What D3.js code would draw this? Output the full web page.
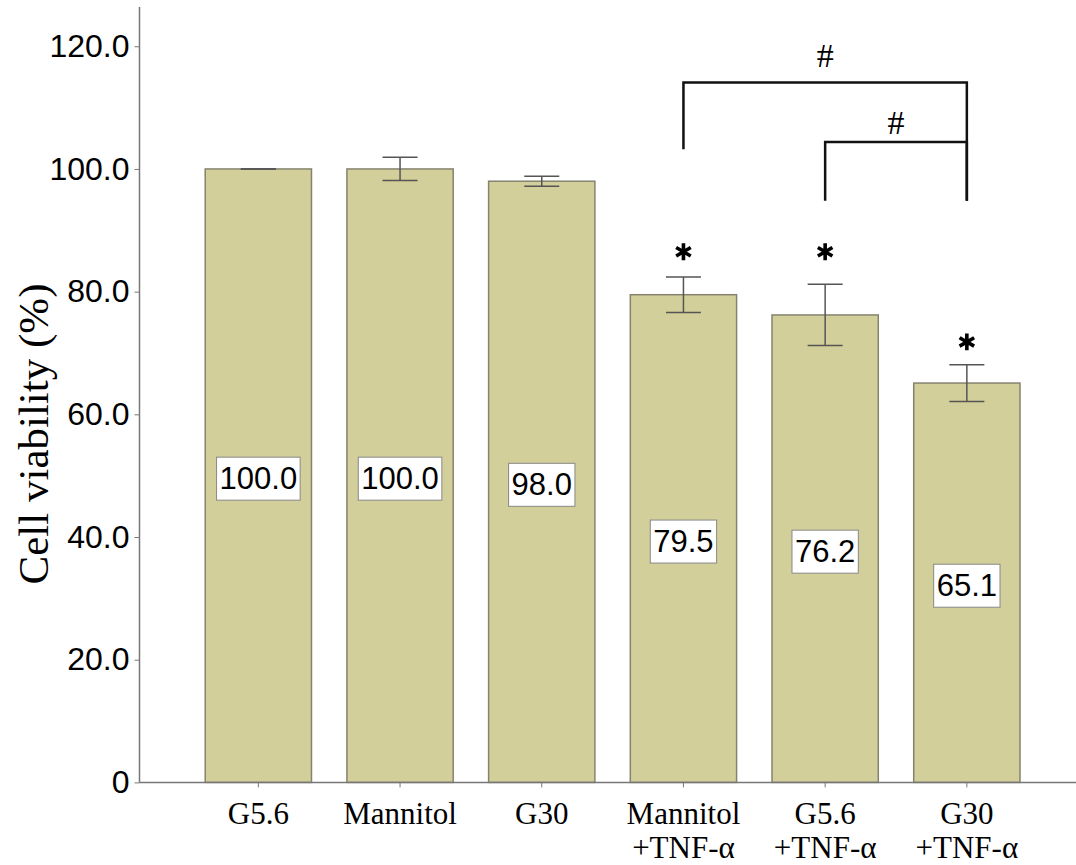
<!DOCTYPE html>
<html lang="en">
<head>
<meta charset="UTF-8">
<title>Cell viability</title>
<style>
  body { margin: 0; background: #fff; }
  svg { display: block; }
</style>
</head>
<body>
<div id="chart"></div>
<script src="https://cdn.jsdelivr.net/npm/d3@7"></script>
<script>
// data
var groups = ["G5.6", "Mannitol", "G30", "Mannitol\n+TNF-\u03b1", "G5.6\n+TNF-\u03b1", "G30\n+TNF-\u03b1"];
var viability = [100.0, 100.0, 98.0, 79.5, 76.2, 65.1];
var errors = [0.0, 1.9, 0.8, 2.9, 5.0, 3.0];
var starAt = [null, null, null, 86.5, 86.5, 71.8];
var yTicks = [0, 20, 40, 60, 80, 100, 120];
// significance brackets: [from, to, top, left end, right end, label level]
var brackets = [
  [3, 5, 114.1, 103.2, 94.8, 118.6],
  [4, 5, 104.4, 94.8, 94.8, 107.7]
];

var W = 1076, H = 865;
var svg = d3.select("#chart").append("svg")
    .attr("width", W).attr("height", H);

var axisX = 139.5;
var x = d3.scaleBand().domain(d3.range(groups.length))
    .range([187.5, 1037.7]).paddingInner(0.25).paddingOuter(0.125);
var y = d3.scaleLinear().domain([0, 126.4]).range([782.4, 7]);

var axisCol = "#777";

// bars
svg.append("g").selectAll("rect")
    .data(viability).enter()
    .append("rect")
    .attr("x", function(d, i) { return x(i); })
    .attr("y", function(d) { return y(d); })
    .attr("width", x.bandwidth())
    .attr("height", function(d) { return y(0) - y(d); })
    .attr("fill", "#d3cf9a")
    .attr("stroke", "#85836f")
    .attr("stroke-width", 1.5);

// error bars
var eb = svg.append("g").attr("stroke", "#555").attr("stroke-width", 1.5);
viability.forEach(function(v, i) {
  var cx = x(i) + x.bandwidth() / 2, e = errors[i];
  eb.append("line").attr("x1", cx).attr("x2", cx).attr("y1", y(v + e)).attr("y2", y(v - e));
  eb.append("line").attr("x1", cx - 17.5).attr("x2", cx + 17.5).attr("y1", y(v + e)).attr("y2", y(v + e));
  eb.append("line").attr("x1", cx - 17.5).attr("x2", cx + 17.5).attr("y1", y(v - e)).attr("y2", y(v - e));
});

// value boxes
viability.forEach(function(v, i) {
  var cx = x(i) + x.bandwidth() / 2, cy = y(v / 2) + 3;
  var g = svg.append("g");
  var t = g.append("text").attr("x", cx).attr("y", cy)
      .attr("text-anchor", "middle").attr("dominant-baseline", "central")
      .style("font-family", "'Liberation Sans', Arial, sans-serif")
      .style("font-size", "31px").attr("fill", "#000")
      .text(v.toFixed(1));
  var bb = t.node().getBBox();
  g.insert("rect", "text")
      .attr("x", cx - bb.width / 2 - 3).attr("y", cy - 21.5)
      .attr("width", bb.width + 6).attr("height", 43)
      .attr("fill", "#fff").attr("stroke", "#888").attr("stroke-width", 1);
});

// asterisks
svg.append("g").selectAll("path")
    .data(starAt.map(function(s, i) { return {s: s, i: i}; }).filter(function(d) { return d.s !== null; }))
    .enter().append("path")
    .attr("d", d3.symbol(d3.symbolAsterisk, 200))
    .attr("transform", function(d) { return "translate(" + (x(d.i) + x.bandwidth() / 2) + "," + y(d.s) + ")"; })
    .attr("fill", "none").attr("stroke", "#000").attr("stroke-width", 3.6);

// brackets
brackets.forEach(function(b) {
  var x1 = x(b[0]) + x.bandwidth() / 2, x2 = x(b[1]) + x.bandwidth() / 2;
  svg.append("path")
      .attr("d", "M" + x1 + "," + y(b[3]) + "V" + y(b[2]) + "H" + x2 + "V" + y(b[4]))
      .attr("fill", "none").attr("stroke", "#111").attr("stroke-width", 2.5);
  svg.append("text")
      .attr("x", (x1 + x2) / 2).attr("y", y(b[5]) + 12)
      .attr("text-anchor", "middle")
      .style("font-family", "'Liberation Serif', 'Times New Roman', serif")
      .style("font-size", "34px").text("#");
});

// y axis
var yAxis = svg.append("g").attr("transform", "translate(" + axisX + ",0)")
    .call(d3.axisLeft(y).tickValues(yTicks).tickSize(5).tickPadding(5)
      .tickFormat(function(d) { return d === 0 ? "0" : d.toFixed(1); }));
yAxis.select(".domain").remove();
yAxis.append("line").attr("x1", 0).attr("x2", 0).attr("y1", y(0)).attr("y2", 7)
    .attr("stroke", axisCol).attr("stroke-width", 1.5);
yAxis.selectAll(".tick line").attr("stroke", axisCol);
yAxis.selectAll(".tick text")
    .style("font-family", "'Liberation Sans', Arial, sans-serif")
    .style("font-size", "32px").attr("fill", "#000");

// x axis
svg.append("line").attr("x1", axisX).attr("x2", W).attr("y1", y(0)).attr("y2", y(0))
    .attr("stroke", axisCol).attr("stroke-width", 1.5);
groups.forEach(function(g, i) {
  var cx = x(i) + x.bandwidth() / 2;
  svg.append("line").attr("x1", cx).attr("x2", cx).attr("y1", y(0)).attr("y2", y(0) + 5)
      .attr("stroke", axisCol);
  var t = svg.append("text").attr("x", cx).attr("y", 824)
      .attr("text-anchor", "middle")
      .style("font-family", "'Liberation Serif', 'Times New Roman', serif")
      .style("font-size", "31px");
  g.split("\n").forEach(function(line, k) {
    t.append("tspan").attr("x", cx).attr("dy", k === 0 ? 0 : 34).text(line);
  });
});

// y title
svg.append("text")
    .attr("transform", "translate(48,434) rotate(-90)")
    .attr("text-anchor", "middle")
    .style("font-family", "'Liberation Serif', 'Times New Roman', serif")
    .style("font-size", "43px")
    .text("Cell viability (%)");
</script>
</body>
</html>
